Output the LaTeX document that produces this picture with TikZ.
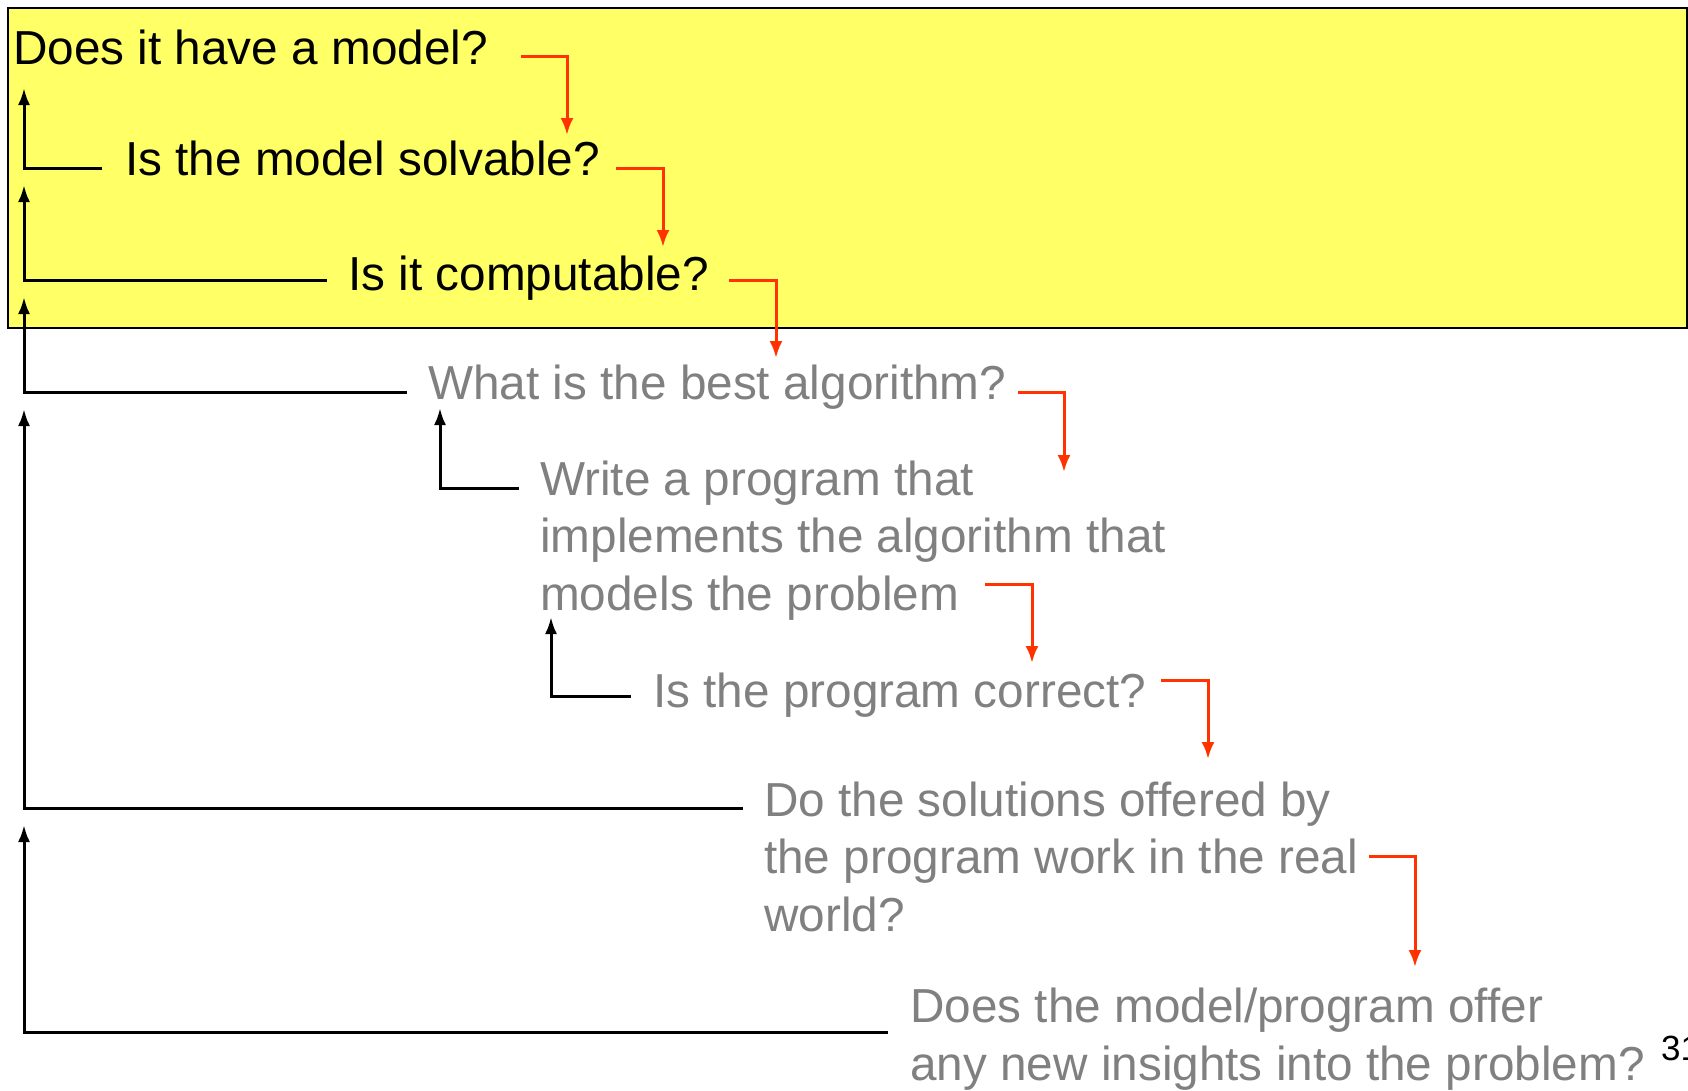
\documentclass[tikz,border=0pt]{standalone}
\usepackage{fontspec}
\setmainfont{Liberation Sans}
\usetikzlibrary{arrows.meta}
\definecolor{boxyellow}{RGB}{255,255,102}
\definecolor{flowred}{RGB}{255,51,0}
\definecolor{qgray}{RGB}{128,128,128}
\begin{document}
\begin{tikzpicture}[x=1pt,y=-1pt,
  q/.style={anchor=base west, inner sep=0pt, font=\fontsize{47.7}{57.5}\selectfont, align=left},
  qblack/.style={q, text=black},
  qgrey/.style={q, text=qgray},
  back/.style={draw=black, line width=3pt, -{Latex[length=17pt,width=12pt]}},
  fwd/.style={draw=flowred, line width=3pt, -{Latex[length=17pt,width=13pt]}},
]
\useasboundingbox (0,0) rectangle (1688,1090);
\clip (0,0) rectangle (1688,1090);
% highlighted region
\path[fill=boxyellow, draw=black, line width=2.5pt] (8,8) rectangle (1687,328);

% questions (multi-line nodes are anchored at the baseline of their last line)
\node[qblack] (q1) at (13,64) {Does it have a model?};
\node[qblack] (q2) at (125,175) {Is the model solvable?};
\node[qblack] (q3) at (348,290) {Is it computable?};
\node[qgrey] (q4) at (428,399) {What is the best algorithm?};
\node[qgrey] (q5) at (540,610) {Write a program that\\implements the algorithm that\\models the problem};
\node[qgrey] (q6) at (653,707) {Is the program correct?};
\node[qgrey] (q7) at (764,931) {Do the solutions offered by\\the program work in the real\\world?};
\node[qgrey] (q8) at (910,1080) {Does the model/program offer\\any new insights into the problem?};
\node[anchor=base west, inner sep=0pt, font=\fontsize{35}{40}\selectfont] (pg) at (1661,1060) {31};

% forward (red) connectors
\coordinate (r1s) at (521,56);   \coordinate (r1e) at (567,135);
\coordinate (r2s) at (616,168);  \coordinate (r2e) at (663,247);
\coordinate (r3s) at (729,280);  \coordinate (r3e) at (776,358);
\coordinate (r4s) at (1018,392); \coordinate (r4e) at (1064,472);
\coordinate (r5s) at (985,584);  \coordinate (r5e) at (1032,663);
\coordinate (r6s) at (1161,680); \coordinate (r6e) at (1208,759);
\coordinate (r7s) at (1369,856); \coordinate (r7e) at (1415,967);
\foreach \i in {1,...,7} {\draw[fwd] (r\i s) -| (r\i e);}

% backward (black) connectors
\coordinate (b1s) at (102,168);  \coordinate (b1e) at (24,88);
\coordinate (b2s) at (327,280);  \coordinate (b2e) at (24,185);
\coordinate (b3s) at (407,392);  \coordinate (b3e) at (24,297);
\coordinate (b4s) at (519,488);  \coordinate (b4e) at (440,408);
\coordinate (b5s) at (631,696);  \coordinate (b5e) at (551,617);
\coordinate (b6s) at (743,808);  \coordinate (b6e) at (24,409);
\coordinate (b7s) at (888,1032); \coordinate (b7e) at (24,825);
\foreach \i in {1,...,7} {\draw[back] (b\i s) -| (b\i e);}
\end{tikzpicture}
\end{document}
